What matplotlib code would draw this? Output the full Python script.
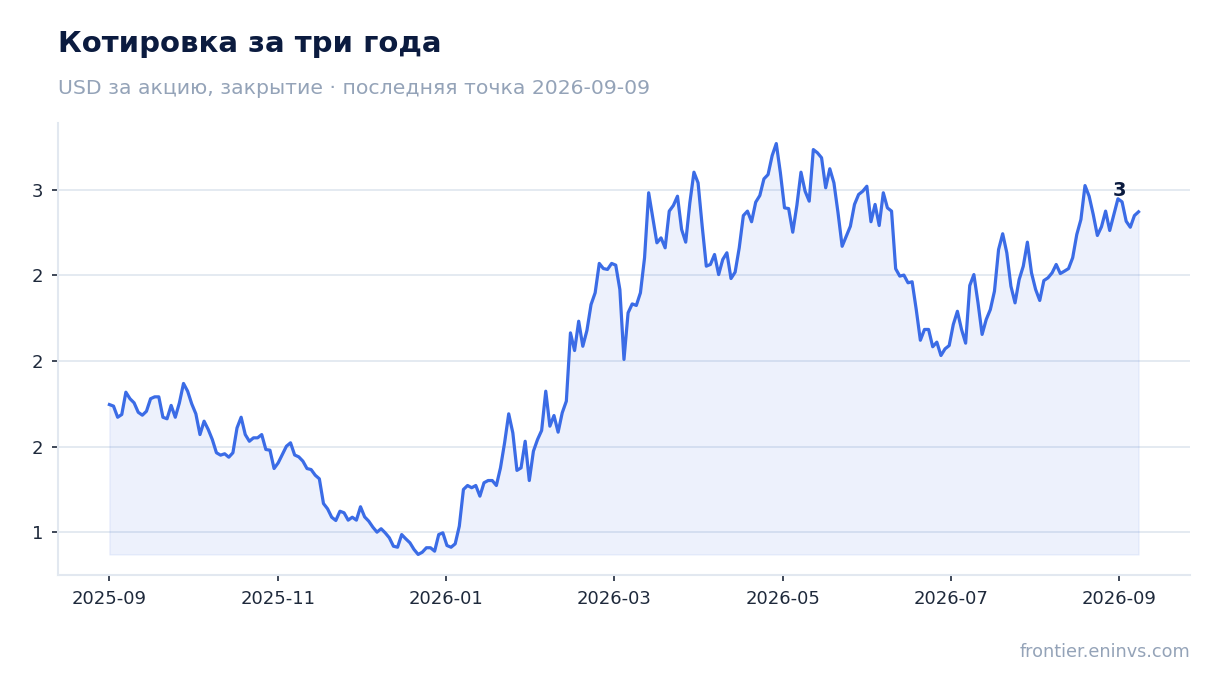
import numpy as np
import pandas as pd
import matplotlib
matplotlib.use("Agg")
import matplotlib.pyplot as plt
import matplotlib.dates as mdates
from matplotlib.ticker import StrMethodFormatter, MultipleLocator

# --- Data (closing price, USD) ---
start_date = "2025-09-01"
end_date = "2026-09-09"
close = [
    1.746, 1.737, 1.672, 1.688, 1.818, 1.780, 1.756, 1.701, 1.684, 1.707,
    1.780, 1.791, 1.791, 1.672, 1.663, 1.741, 1.672, 1.756, 1.869, 1.824,
    1.750, 1.692, 1.571, 1.649, 1.601, 1.542, 1.465, 1.451, 1.459, 1.439,
    1.465, 1.610, 1.672, 1.571, 1.532, 1.552, 1.552, 1.571, 1.484, 1.480,
    1.373, 1.406, 1.455, 1.503, 1.523, 1.452, 1.441, 1.416, 1.373, 1.367,
    1.334, 1.313, 1.169, 1.138, 1.089, 1.070, 1.124, 1.115, 1.072, 1.089,
    1.072, 1.150, 1.091, 1.066, 1.031, 1.002, 1.022, 0.998, 0.969, 0.920,
    0.914, 0.988, 0.963, 0.940, 0.901, 0.872, 0.885, 0.911, 0.911, 0.891,
    0.988, 0.998, 0.924, 0.914, 0.934, 1.037, 1.251, 1.274, 1.261, 1.274,
    1.212, 1.290, 1.303, 1.303, 1.274, 1.377, 1.523, 1.692, 1.581, 1.362,
    1.377, 1.532, 1.303, 1.474, 1.542, 1.595, 1.824, 1.620, 1.682, 1.585,
    1.698, 1.766, 2.164, 2.061, 2.232, 2.086, 2.178, 2.329, 2.398, 2.569,
    2.539, 2.534, 2.569, 2.559, 2.417, 2.009, 2.281, 2.333, 2.324, 2.398,
    2.602, 2.981, 2.835, 2.689, 2.718, 2.660, 2.874, 2.907, 2.961, 2.767,
    2.693, 2.922, 3.101, 3.039, 2.786, 2.553, 2.563, 2.621, 2.504, 2.592,
    2.631, 2.481, 2.518, 2.660, 2.848, 2.874, 2.812, 2.926, 2.965, 3.062,
    3.087, 3.198, 3.268, 3.097, 2.893, 2.889, 2.751, 2.907, 3.101, 2.990,
    2.932, 3.233, 3.214, 3.185, 3.010, 3.121, 3.039, 2.864, 2.669, 2.728,
    2.786, 2.913, 2.971, 2.990, 3.019, 2.812, 2.913, 2.790, 2.981, 2.893,
    2.874, 2.538, 2.495, 2.501, 2.456, 2.462, 2.300, 2.121, 2.184, 2.184,
    2.083, 2.110, 2.032, 2.071, 2.090, 2.213, 2.290, 2.184, 2.104, 2.440,
    2.504, 2.340, 2.155, 2.242, 2.300, 2.407, 2.650, 2.742, 2.631, 2.436,
    2.339, 2.475, 2.553, 2.693, 2.514, 2.417, 2.353, 2.469, 2.485, 2.514,
    2.563, 2.510, 2.524, 2.539, 2.602, 2.738, 2.825, 3.023, 2.961, 2.854,
    2.732, 2.783, 2.874, 2.761, 2.854, 2.946, 2.928, 2.815, 2.780, 2.848,
    2.870,
]
dates = pd.date_range(start_date, end_date, periods=len(close))
tick_dates = pd.date_range(start_date, periods=7, freq="61D")

title = "Котировка за три года"
subtitle = "USD за акцию, закрытие · последняя точка 2026-09-09"
source = "frontier.eninvs.com"

# --- Style ---
line_color = "#3b6ce6"
navy = "#0b1b3f"
muted = "#94a3b8"
grid_color = "#e2e8f0"
tick_color = "#1e293b"

fig = plt.figure(figsize=(12.2, 6.93), dpi=100)
ax = fig.add_axes([0.0475, 0.1703, 0.9279, 0.6522])

y = np.array(close)
ax.fill_between(dates, y, y.min(), color=line_color, alpha=0.09, lw=1)
ax.plot(dates, y, color=line_color, lw=2.3, solid_joinstyle="round")

# last value label
ax.annotate(f"{y[-1]:.0f}", xy=(dates[-1], y[-1]), xytext=(-14, 15),
            textcoords="offset points", ha="center", va="center",
            fontsize=14, fontweight="bold", color=navy)

ax.set_xticks(tick_dates)
ax.xaxis.set_major_formatter(mdates.DateFormatter("%Y-%m"))
ax.yaxis.set_major_locator(MultipleLocator(0.5))
ax.yaxis.set_major_formatter(StrMethodFormatter("{x:.0f}"))
ax.margins(x=0.05, y=0.05)

ax.grid(axis="y", color=grid_color, lw=1.3)
ax.set_axisbelow(True)
for side in ["top", "right"]:
    ax.spines[side].set_visible(False)
for side in ["left", "bottom"]:
    ax.spines[side].set_color(grid_color)
    ax.spines[side].set_linewidth(1.5)
ax.tick_params(colors=tick_color, labelsize=13, length=4.5, width=1.2, pad=6)

fig.text(58 / 1220, 1 - 44 / 693, title, fontsize=21, fontweight="bold",
         color=navy, va="center", ha="left")
fig.text(58 / 1220, 1 - 88 / 693, subtitle, fontsize=14.7, color=muted,
         va="center", ha="left")
fig.text(1190 / 1220, 1 - 652 / 693, source, fontsize=12.7, color=muted,
         va="center", ha="right")

fig.savefig("out.png", dpi=100)
